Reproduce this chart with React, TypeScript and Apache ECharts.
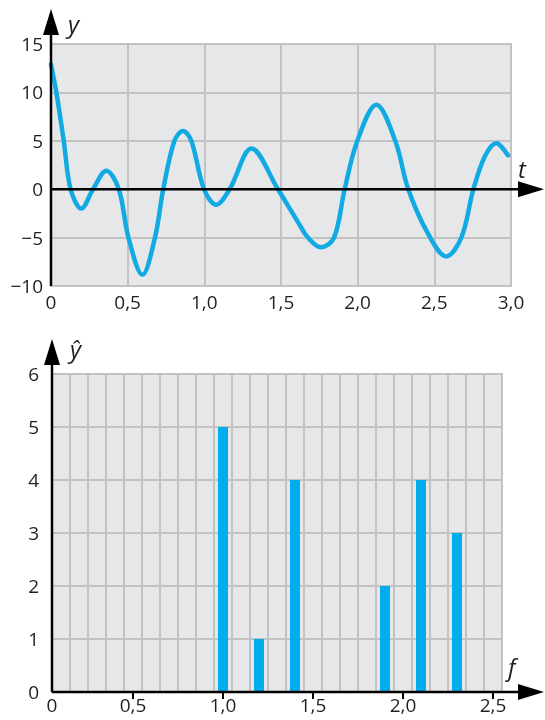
import React, { useEffect, useRef } from "react";
import * as echarts from "echarts";

// Top panel: signal y(t)
const tValues = [0, 0.035, 0.083, 0.128, 0.198, 0.274, 0.361, 0.442, 0.505, 0.596, 0.678, 0.732, 0.805, 0.861, 0.915, 0.998, 1.078, 1.165, 1.307, 1.48, 1.611, 1.676, 1.759, 1.846, 1.915, 1.998, 2.122, 2.245, 2.33, 2.459, 2.578, 2.676, 2.755, 2.83, 2.904, 2.98];
const yValues = [12.9, 10, 5, 0, -2.0, 0, 1.9, 0, -5, -8.85, -5, 0, 5, 6.0, 5, 0, -1.6, 0, 4.2, 0, -3.4, -5, -6.0, -5, 0, 5, 8.73, 5, 0, -4.6, -6.94, -5, 0, 3.4, 4.75, 3.5];
const topXTicks = [0, 0.5, 1, 1.5, 2, 2.5, 3];
const topYTicks = [-10, -5, 0, 5, 10, 15];

// Bottom panel: spectrum ŷ(f)
const frequencies = [1.0, 1.2, 1.4, 1.9, 2.1, 2.3];
const amplitudes = [5, 1, 4, 2, 4, 3];
const bottomXLabels = [0, 0.5, 1.0, 1.5, 2.0, 2.5];
const bottomYTicks = [0, 1, 2, 3, 4, 5, 6];
const fCellEdges = [0.05, 2.55]; // grid spans cells centred on 0.1 … 2.5
const fCellWidth = 0.1;

const FONT = '"Open Sans", "Noto Sans", sans-serif';
const TEXT = "#231f20";
const GRID_BG = "#e6e7e8";
const GRID_LINE = "#c2c2c2";
const BLUE = "#00aeef";
const LINE_BLUE = "#12aae3";
const AXIS = "#000000";

const fmtDec = (v: number) => (Math.abs(v) < 1e-9 ? "0" : v.toFixed(1).replace(".", ","));
const fmtInt = (v: number) => (v < 0 ? "\u2212" + Math.abs(v) : String(v));

export default function App() {
  const ref = useRef<HTMLDivElement>(null);

  useEffect(() => {
    if (!ref.current) return;
    const chart = echarts.init(ref.current, undefined, { renderer: "svg" });

    const labelStyle = { color: TEXT, fontFamily: FONT, fontSize: 19 };
    const splitLine = { show: true, lineStyle: { color: GRID_LINE, width: 2 } };

    const option: any = {
      animation: false,
      grid: [
        { left: 51, top: 44, width: 460, height: 242, show: true, backgroundColor: GRID_BG, borderColor: GRID_LINE, borderWidth: 2 },
        { left: 52, top: 374, width: 450, height: 318, show: true, backgroundColor: GRID_BG, borderColor: GRID_LINE, borderWidth: 2 },
      ],
      xAxis: [
        {
          type: "value", gridIndex: 0, min: topXTicks[0], max: topXTicks[topXTicks.length - 1], interval: 0.5,
          axisLine: { show: false }, axisTick: { show: false }, splitLine,
          axisLabel: { ...labelStyle, margin: 6, formatter: (v: number) => fmtDec(v) },
        },
        {
          type: "value", gridIndex: 1, min: fCellEdges[0], max: fCellEdges[1], interval: fCellWidth,
          axisLine: { show: false }, axisTick: { show: false }, axisLabel: { show: false }, splitLine,
        },
        {
          type: "value", gridIndex: 1, position: "bottom", min: fCellEdges[0], max: fCellEdges[1],
          axisLine: { show: false }, splitLine: { show: false },
          axisTick: { show: true, length: 7, customValues: bottomXLabels.filter((v) => v > fCellEdges[0]), lineStyle: { color: AXIS, width: 2 } },
          axisLabel: {
            ...labelStyle, margin: 3,
            customValues: bottomXLabels.map((v) => Math.max(v, fCellEdges[0])),
            formatter: (v: number) => (v <= fCellEdges[0] + 1e-9 ? "0" : fmtDec(v)),
          },
        },
      ],
      yAxis: [
        {
          type: "value", gridIndex: 0, min: topYTicks[0], max: topYTicks[topYTicks.length - 1], interval: 5,
          axisLine: { show: false }, axisTick: { show: false }, splitLine,
          axisLabel: { ...labelStyle, margin: 8, formatter: (v: number) => fmtInt(v) },
        },
        {
          type: "value", gridIndex: 1, min: bottomYTicks[0], max: bottomYTicks[bottomYTicks.length - 1], interval: 1,
          axisLine: { show: false }, axisTick: { show: false }, splitLine,
          axisLabel: { ...labelStyle, margin: 13, formatter: (v: number) => fmtInt(v) },
        },
      ],
      series: [
        {
          type: "line", xAxisIndex: 0, yAxisIndex: 0, smooth: 0.35, symbol: "none",
          lineStyle: { color: LINE_BLUE, width: 4.5, cap: "round", join: "round" },
          data: tValues.map((t, i) => [t, yValues[i]]),
          z: 5,
        },
        {
          type: "bar", xAxisIndex: 2, yAxisIndex: 1, barWidth: 10,
          itemStyle: { color: BLUE },
          data: frequencies.map((f, i) => [f, amplitudes[i]]),
          z: 5,
        },
      ],
    };
    chart.setOption(option);

    const px = (gi: number, x: number, y: number) => chart.convertToPixel({ gridIndex: gi } as any, [x, y]) as number[];
    const tip = 544;
    const axisStyle = { stroke: AXIS, lineWidth: 2.5 };

    const makeAxes = (gi: number, xMin: number, yMin: number, yMax: number, yZero: number) => {
      const bl = px(gi, xMin, yMin);
      const tl = px(gi, xMin, yMax);
      const z = px(gi, xMin, yZero);
      return [
        { type: "line", shape: { x1: bl[0], y1: bl[1], x2: tl[0], y2: tl[1] - 12 }, style: axisStyle, z: 10 },
        { type: "polygon", shape: { points: [[tl[0], tl[1] - 35], [tl[0] - 8, tl[1] - 9], [tl[0] + 8, tl[1] - 9]] }, style: { fill: AXIS }, z: 10 },
        { type: "line", shape: { x1: z[0], y1: z[1], x2: tip - 22, y2: z[1] }, style: axisStyle, z: 10 },
        { type: "polygon", shape: { points: [[tip, z[1]], [tip - 26, z[1] - 8], [tip - 26, z[1] + 8]] }, style: { fill: AXIS }, z: 10 },
      ];
    };

    const top = px(0, 0, 15);
    const topZero = px(0, 3, 0);
    const bot = px(1, fCellEdges[0], 6);
    const botZero = px(1, fCellEdges[1], 0);
    const italic = { fill: TEXT, fontFamily: FONT, fontStyle: "italic", fontSize: 24 };

    chart.setOption({
      graphic: [
        ...makeAxes(0, 0, -10, 15, 0),
        ...makeAxes(1, fCellEdges[0], 0, 6, 0),
        { type: "text", x: top[0] + 17, y: top[1] - 33, style: { ...italic, text: "y" }, z: 10 },
        { type: "text", x: topZero[0] + 7, y: topZero[1] - 33, style: { ...italic, text: "t" }, z: 10 },
        { type: "text", x: bot[0] + 18, y: bot[1] - 38, style: { ...italic, text: "\u0177" }, z: 10 },
        { type: "text", x: botZero[0] + 6, y: botZero[1] - 38, style: { ...italic, text: "f" }, z: 10 },
      ],
    });

    return () => chart.dispose();
  }, []);

  return <div ref={ref} style={{ position: "fixed", left: 0, top: 0, width: 545, height: 720 }} />;
}
